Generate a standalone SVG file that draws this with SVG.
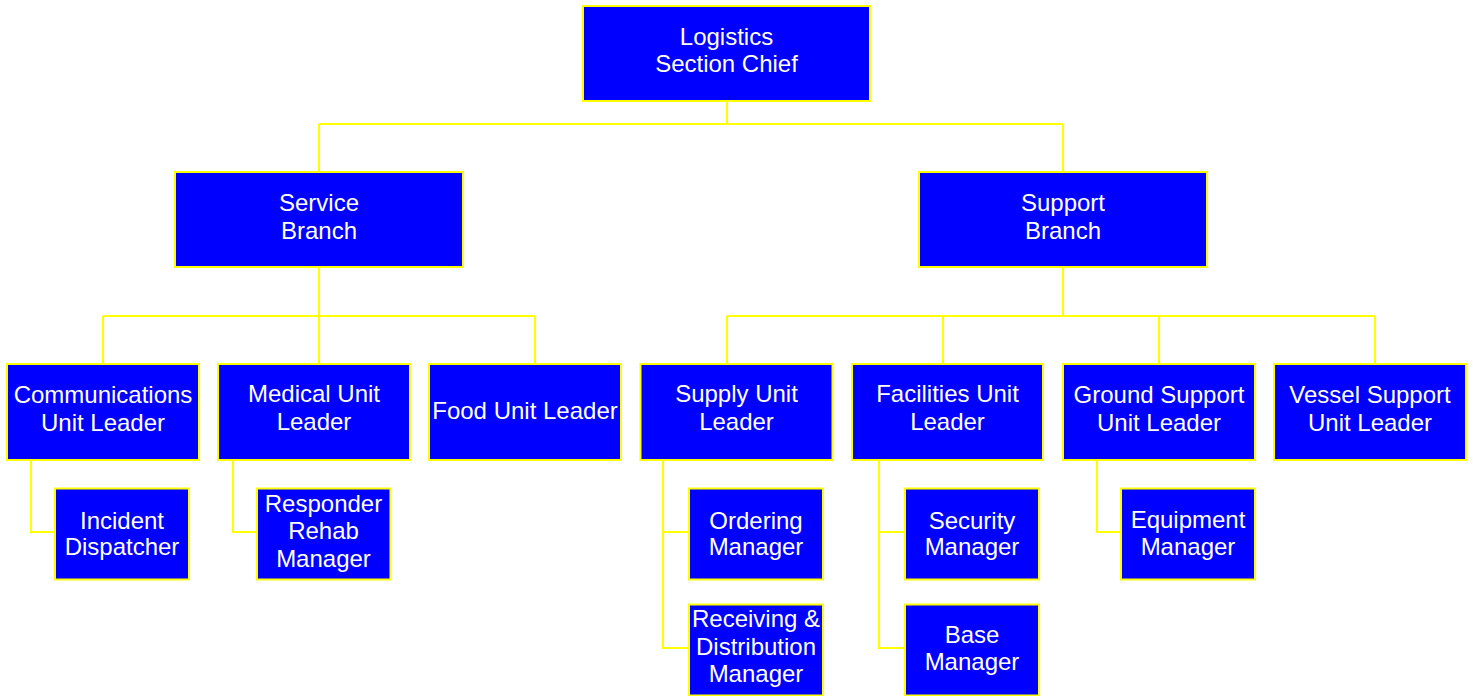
<svg xmlns="http://www.w3.org/2000/svg" width="1473" height="696" viewBox="0 0 1473 696">
  <style>
    .box rect { fill: #0000FF; stroke: #FFFF00; stroke-width: 2; }
    .box text { fill: #FFFFFF; font-family: "Liberation Sans", Arial, sans-serif; font-size: 24px; text-anchor: middle; }
    #connectors path { fill: none; stroke: #FFFF00; stroke-width: 2; }
  </style>
  <rect width="1473" height="696" fill="#FFFFFF"/>

  <!-- connectors -->
  <g id="connectors">
    <path d="M727 101 V124 M319 124 H1063 M319 124 V172 M1063 124 V172"/>
    <path d="M319 268 V364 M103 316 H535 M103 316 V364 M535 316 V364"/>
    <path d="M1063 268 V316 M727 316 H1375 M727 316 V364 M943 316 V364 M1159 316 V364 M1375 316 V364"/>
    <path d="M31 460 V532 H55"/>
    <path d="M233 460 V532 H257"/>
    <path d="M663 460 V648 H689 M663 532 H689"/>
    <path d="M879 460 V648 H905 M879 532 H905"/>
    <path d="M1097 460 V532 H1121"/>
  </g>

  <!-- top -->
  <g id="logistics-section-chief" class="box">
    <rect x="583" y="6" width="287" height="95"/>
    <text x="726.5" y="45">Logistics</text>
    <text x="726.5" y="72">Section Chief</text>
  </g>

  <!-- branches -->
  <g id="service-branch" class="box">
    <rect x="175" y="172" width="288" height="95"/>
    <text x="319" y="211">Service</text>
    <text x="319" y="239">Branch</text>
  </g>
  <g id="support-branch" class="box">
    <rect x="919" y="172" width="288" height="95"/>
    <text x="1063" y="211">Support</text>
    <text x="1063" y="239">Branch</text>
  </g>

  <!-- unit leaders -->
  <g id="communications-unit-leader" class="box">
    <rect x="7" y="364" width="192" height="96"/>
    <text x="103" y="402.5">Communications</text>
    <text x="103" y="430.5">Unit Leader</text>
  </g>
  <g id="medical-unit-leader" class="box">
    <rect x="218" y="364" width="192" height="96"/>
    <text x="314" y="402">Medical Unit</text>
    <text x="314" y="430">Leader</text>
  </g>
  <g id="food-unit-leader" class="box">
    <rect x="429" y="364" width="192" height="96"/>
    <text x="525" y="418.5">Food Unit Leader</text>
  </g>
  <g id="supply-unit-leader" class="box">
    <rect x="640.5" y="364" width="192" height="96"/>
    <text x="736.5" y="402">Supply Unit</text>
    <text x="736.5" y="430">Leader</text>
  </g>
  <g id="facilities-unit-leader" class="box">
    <rect x="852" y="364" width="191" height="96"/>
    <text x="947.5" y="402">Facilities Unit</text>
    <text x="947.5" y="430">Leader</text>
  </g>
  <g id="ground-support-unit-leader" class="box">
    <rect x="1063" y="364" width="192" height="96"/>
    <text x="1159" y="402.5">Ground Support</text>
    <text x="1159" y="430.5">Unit Leader</text>
  </g>
  <g id="vessel-support-unit-leader" class="box">
    <rect x="1274" y="364" width="192" height="96"/>
    <text x="1370" y="402.5">Vessel Support</text>
    <text x="1370" y="430.5">Unit Leader</text>
  </g>

  <!-- managers -->
  <g id="incident-dispatcher" class="box">
    <rect x="55" y="488.5" width="134" height="91"/>
    <text x="122" y="528.5">Incident</text>
    <text x="122" y="555">Dispatcher</text>
  </g>
  <g id="responder-rehab-manager" class="box">
    <rect x="257" y="488.5" width="133.5" height="91"/>
    <text x="323.5" y="511.5">Responder</text>
    <text x="323.5" y="538.5">Rehab</text>
    <text x="323.5" y="566.5">Manager</text>
  </g>
  <g id="ordering-manager" class="box">
    <rect x="689" y="488.5" width="134" height="91"/>
    <text x="756" y="528.5">Ordering</text>
    <text x="756" y="554.5">Manager</text>
  </g>
  <g id="receiving-distribution-manager" class="box">
    <rect x="689" y="604.5" width="134" height="91"/>
    <text x="756" y="627">Receiving &amp;</text>
    <text x="756" y="654.5">Distribution</text>
    <text x="756" y="682">Manager</text>
  </g>
  <g id="security-manager" class="box">
    <rect x="905" y="488.5" width="134" height="91"/>
    <text x="972" y="528.5">Security</text>
    <text x="972" y="554.5">Manager</text>
  </g>
  <g id="base-manager" class="box">
    <rect x="905" y="604.5" width="134" height="91"/>
    <text x="972" y="643">Base</text>
    <text x="972" y="670">Manager</text>
  </g>
  <g id="equipment-manager" class="box">
    <rect x="1121" y="488.5" width="134" height="91"/>
    <text x="1188" y="528">Equipment</text>
    <text x="1188" y="554.5">Manager</text>
  </g>
</svg>
